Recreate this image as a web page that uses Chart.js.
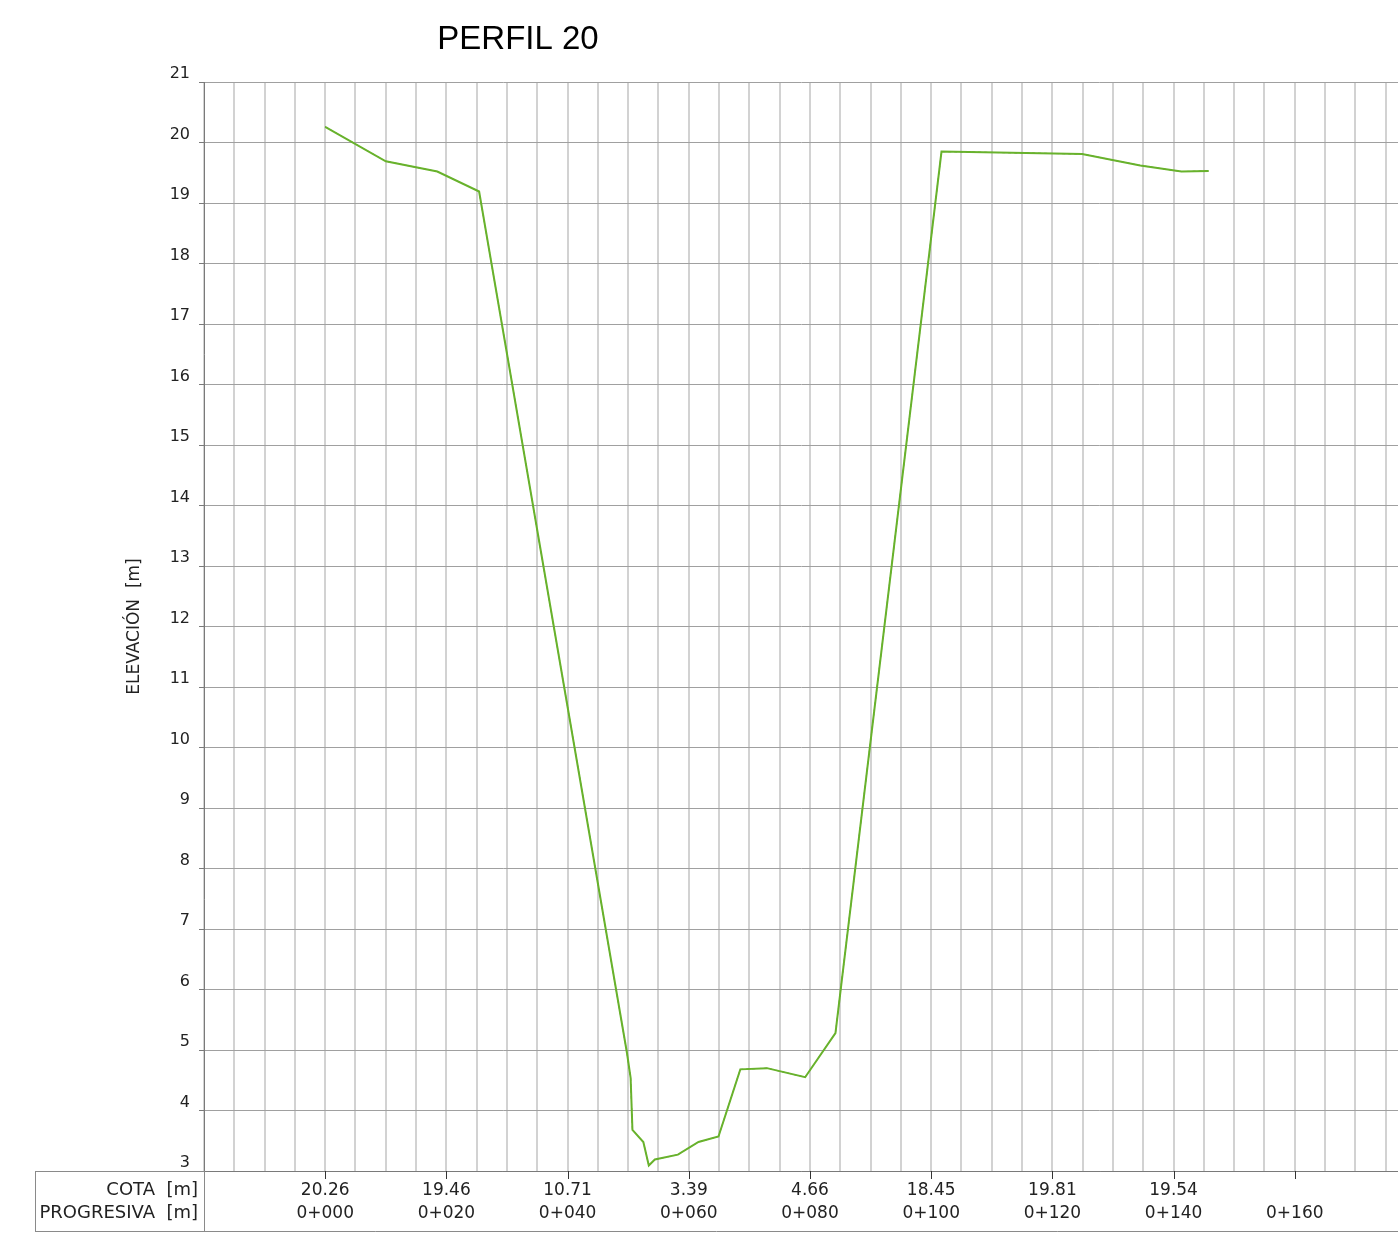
<!DOCTYPE html>
<html lang="es">
<head>
<meta charset="UTF-8">
<title>Perfil 20</title>
<script src="https://cdn.jsdelivr.net/npm/chart.js@4.4.0/dist/chart.umd.min.js"></script>
<style>
  body { margin: 0; background: #fff; }
  canvas { display: block; }
</style>
</head>
<body>
<canvas id="chart" width="1398" height="1238"></canvas>
<script>
// distance along profile [m] and elevation [m]
const distances = [0, 10, 18.5, 25.4, 49.8, 50.4, 50.7, 52.5, 53.4, 54.4, 58.2, 61.6, 64.9,
  68.5, 72.9, 79.2, 84.2, 101.7, 124.9, 134.5, 141.3, 145.8];
const elevations = [20.26, 19.69, 19.52, 19.19, 4.95, 4.54, 3.68, 3.48, 3.09, 3.19, 3.27, 3.48, 3.57,
  4.68, 4.70, 4.55, 5.28, 19.85, 19.81, 19.62, 19.52, 19.53];

// bottom table
const stations = [0, 20, 40, 60, 80, 100, 120, 140, 160];
const stationLabels = ['0+000', '0+020', '0+040', '0+060', '0+080', '0+100', '0+120', '0+140', '0+160'];
const cotaLabels = ['20.26', '19.46', '10.71', '3.39', '4.66', '18.45', '19.81', '19.54', ''];

Chart.defaults.font.family = '"DejaVu Sans", sans-serif';
Chart.defaults.color = '#333';

const points = distances.map((d, i) => ({ x: d, y: elevations[i] }));

const tablePlugin = {
  id: 'table',
  afterDraw(chart) {
    const ctx = chart.ctx;
    const xs = chart.scales.x;
    const top = chart.chartArea.bottom;
    const bottom = 1231;
    const left = 35;
    const right = chart.width;
    const split = chart.chartArea.left;

    ctx.save();
    // title
    ctx.fillStyle = '#000';
    ctx.font = '33px "Liberation Sans", Arial, sans-serif';
    ctx.textAlign = 'center';
    ctx.textBaseline = 'middle';
    ctx.fillText('PERFIL 20', 518, 40);

    // table frame
    ctx.strokeStyle = '#8a8a8a';
    ctx.lineWidth = 1;
    ctx.beginPath();
    ctx.moveTo(left, top + 0.5); ctx.lineTo(split, top + 0.5);
    ctx.moveTo(left + 0.5, top); ctx.lineTo(left + 0.5, bottom);
    ctx.moveTo(left, bottom + 0.5); ctx.lineTo(right, bottom + 0.5);
    ctx.moveTo(split + 0.5, top); ctx.lineTo(split + 0.5, bottom);
    ctx.stroke();

    // station ticks
    ctx.strokeStyle = '#333';
    ctx.beginPath();
    stations.forEach(s => {
      const px = Math.round(xs.getPixelForValue(s)) + 0.5;
      ctx.moveTo(px, top);
      ctx.lineTo(px, top + 8);
    });
    ctx.stroke();

    // labels
    ctx.fillStyle = '#222';
    ctx.font = '17px "DejaVu Sans", sans-serif';
    ctx.textAlign = 'center';
    stations.forEach((s, i) => {
      const px = xs.getPixelForValue(s);
      ctx.fillText(cotaLabels[i], px, 1191);
      ctx.fillText(stationLabels[i], px, 1214);
    });
    ctx.textAlign = 'right';
    ctx.font = '18px "DejaVu Sans", sans-serif';
    ctx.fillText('COTA  [m]', 198, 1190);
    ctx.fillText('PROGRESIVA  [m]', 198, 1213);
    ctx.restore();
  }
};

new Chart(document.getElementById('chart'), {
  type: 'line',
  data: {
    datasets: [{
      data: points,
      borderColor: '#68b22c',
      borderWidth: 2,
      pointRadius: 0,
      tension: 0,
      fill: false
    }, {
      data: points,
      borderColor: '#3d7a12',
      borderWidth: 1,
      borderDash: [3, 3],
      pointRadius: 0,
      tension: 0,
      fill: false
    }]
  },
  options: {
    responsive: false,
    animation: false,
    devicePixelRatio: 1,
    layout: { padding: { top: 82, left: 120, right: 0, bottom: 67 } },
    plugins: {
      legend: { display: false },
      title: { display: false },
      tooltip: { enabled: false }
    },
    scales: {
      x: {
        type: 'linear',
        min: -20,
        max: 177.03,
        ticks: { display: false, stepSize: 5, includeBounds: false },
        grid: { color: '#d2d2d2', lineWidth: 2, drawTicks: false },
        border: { color: '#7a7a7a', width: 1 },
        afterFit(scale) { scale.height = 0; }
      },
      y: {
        min: 3,
        max: 21,
        ticks: {
          stepSize: 1,
          padding: 9,
          labelOffset: -8,
          color: '#222',
          font: { size: 16 }
        },
        grid: { color: '#a0a0a0', tickLength: 5, tickColor: '#7a7a7a' },
        border: { color: '#7a7a7a' },
        title: {
          display: true,
          text: 'ELEVACIÓN  [m]',
          color: '#222',
          font: { size: 17 }
        },
        afterFit(scale) { scale.width = 84; }
      }
    }
  },
  plugins: [tablePlugin]
});
</script>
</body>
</html>
